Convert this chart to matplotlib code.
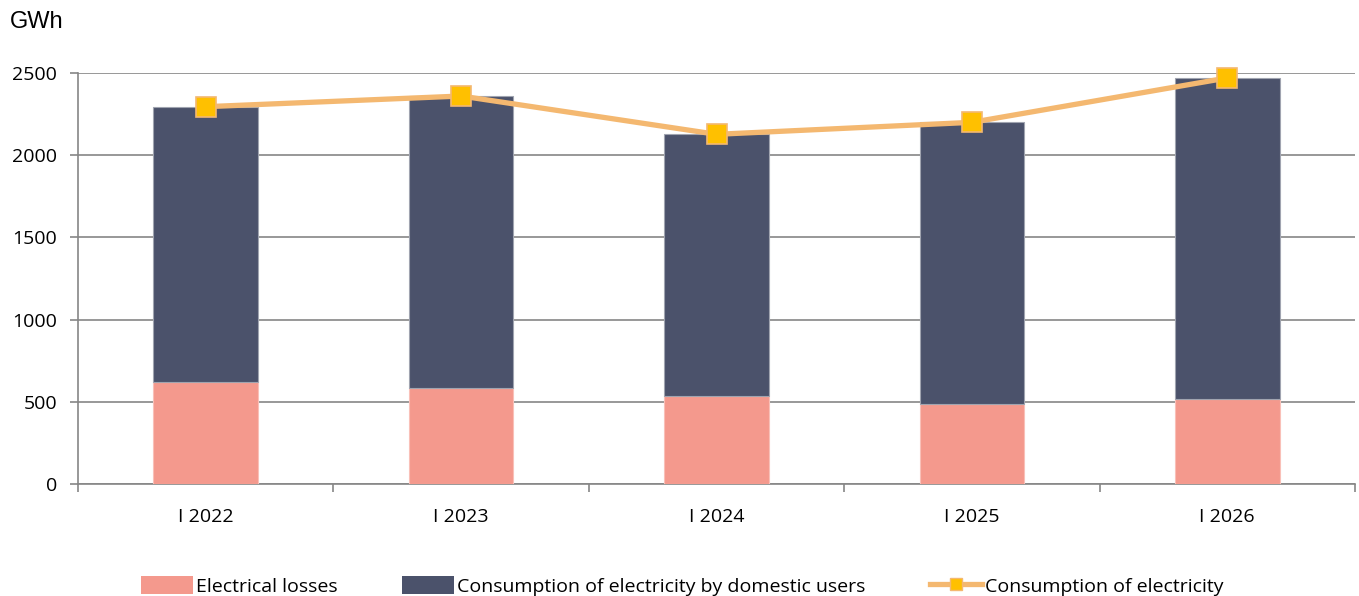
import matplotlib
matplotlib.use("Agg")
import matplotlib.pyplot as plt
from matplotlib.lines import Line2D
from matplotlib.patches import Patch
import numpy as np

categories = ["I 2022", "I 2023", "I 2024", "I 2025", "I 2026"]
losses = [619, 582, 533, 485, 515]
total = [2295, 2360, 2127, 2200, 2470]
domestic = [t - l for t, l in zip(total, losses)]

plt.rcParams['font.family'] = ['Open Sans', 'DejaVu Sans']

fig = plt.figure(figsize=(13.59, 5.96), dpi=100)
ax = fig.add_axes([78/1359, 1-484/596, (1355-78)/1359, (484-73)/596])

x = np.arange(len(categories))
w = 0.41
c_loss = '#F4998D'
c_dom = '#4B526B'
c_line = '#F4B870'
c_mark = '#FFC000'
grey = '#868686'

ax.bar(x, losses, w, color=c_loss, edgecolor='#F9C0B8', linewidth=0.8, zorder=3)
ax.bar(x, domestic, w, bottom=losses, color=c_dom, edgecolor='#A0A4B0', linewidth=0.8, zorder=3)
ax.plot(x, total, color=c_line, linewidth=3.8, marker='s', markersize=14,
        markerfacecolor=c_mark, markeredgecolor=c_line, markeredgewidth=1.2,
        zorder=4, clip_on=False)

ax.set_xlim(-0.5, len(categories) - 0.5)
ax.set_ylim(0, 2500)
ax.set_yticks(np.arange(0, 2501, 500))
ax.yaxis.grid(True, color=grey, linewidth=1.2, zorder=0)
ax.set_axisbelow(True)

ax.set_xticks(x)
ax.set_xticklabels(categories, fontsize=14)
ax.set_xticks(np.arange(-0.5, len(categories), 1), minor=True)
ax.tick_params(axis='x', which='major', length=0, pad=17)
ax.tick_params(axis='x', which='minor', length=6, width=1.2, color=grey, direction='out')
ax.tick_params(axis='y', length=6, width=1.2, color=grey, labelsize=14, pad=9)

for s in ['top', 'right']:
    ax.spines[s].set_visible(False)
for s in ['left', 'bottom']:
    ax.spines[s].set_color(grey)
    ax.spines[s].set_linewidth(1.2)

fig.text(10/1359, 1-22/596, 'GWh', fontsize=17, family=['Liberation Sans', 'DejaVu Sans'],
         va='center', ha='left')

handles = [
    Patch(facecolor=c_loss, edgecolor='none'),
    Patch(facecolor=c_dom, edgecolor='none'),
    Line2D([0], [0], color=c_line, linewidth=3.8, marker='s', markersize=8,
           markerfacecolor=c_mark, markeredgecolor=c_line),
]
labels = ['Electrical losses', 'Consumption of electricity by domestic users',
          'Consumption of electricity']
fig.legend(handles, labels, loc='center', bbox_to_anchor=(0.502, 1-586/596), ncol=3,
           frameon=False, fontsize=14, handlelength=2.7, handleheight=1.0,
           columnspacing=3.3, handletextpad=0.15)

fig.savefig('out.png', dpi=100)
